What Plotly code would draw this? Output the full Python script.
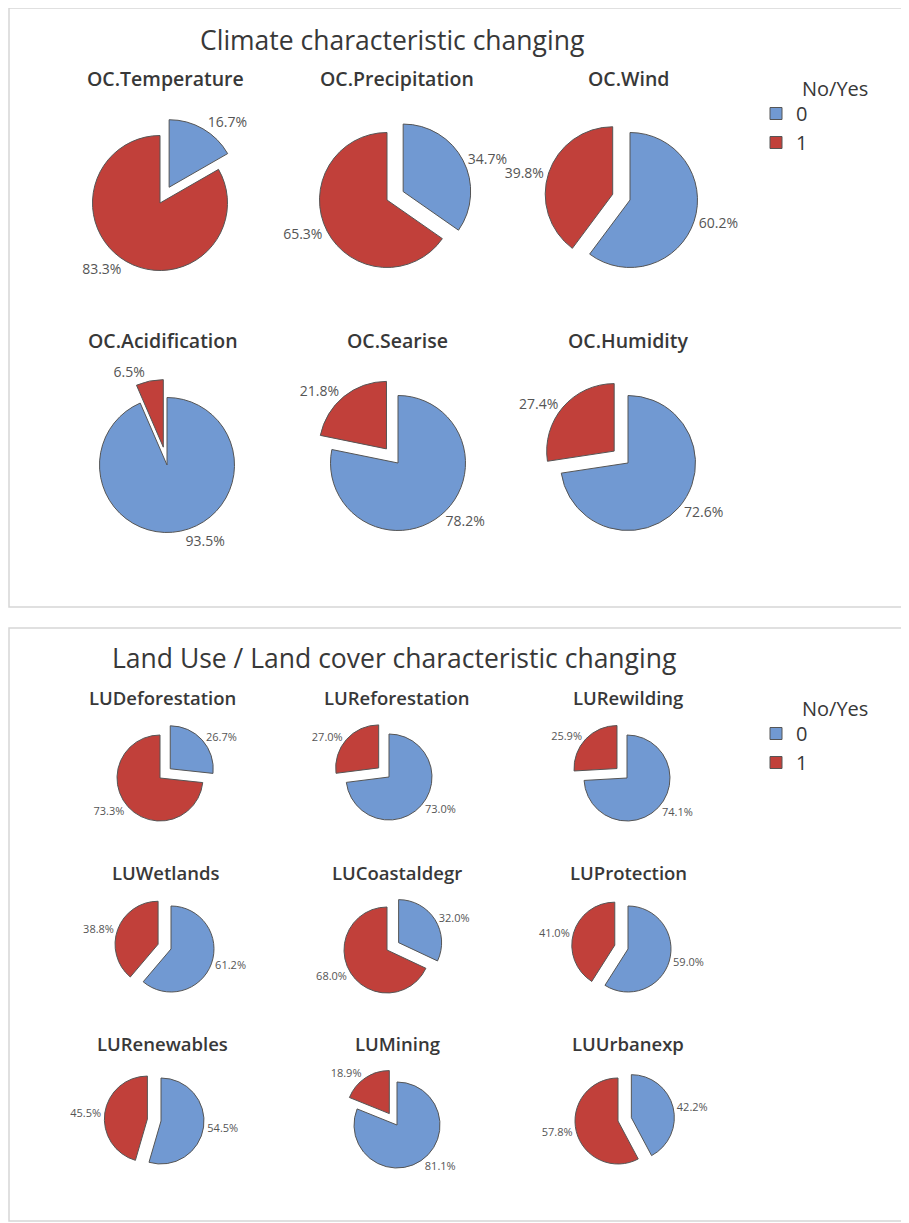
import plotly.graph_objects as go

W, H = 909, 1223
OX, OY = 8, 8  # page body margin offset

# ---------------- data ----------------
categories = ["0", "1"]
legend_title = "No/Yes"

oc_title = "Climate characteristic changing"
oc_names = ["OC.Temperature", "OC.Precipitation", "OC.Wind",
            "OC.Acidification", "OC.Searise", "OC.Humidity"]
oc_no = [16.7, 34.7, 60.2, 93.5, 78.2, 72.6]
oc_yes = [83.3, 65.3, 39.8, 6.5, 21.8, 27.4]

lu_title = "Land Use / Land cover characteristic changing"
lu_names = ["LUDeforestation", "LUReforestation", "LURewilding",
            "LUWetlands", "LUCoastaldegr", "LUProtection",
            "LURenewables", "LUMining", "LUUrbanexp"]
lu_no = [26.7, 73.0, 74.1, 61.2, 32.0, 59.0, 54.5, 81.1, 42.2]
lu_yes = [73.3, 27.0, 25.9, 38.8, 68.0, 41.0, 45.5, 18.9, 57.8]

# ---------------- layout / style ----------------
BLUE = "#7199D2"
RED = "#C1403A"
TXT = "#383838"
LBL = "#555555"
FONT = "Open Sans"

oc_centers = [(160, 203), (387, 200), (630, 200),
              (167, 465), (398, 463), (628, 463)]
oc_title_pos = [(165, 78), (397, 78), (628, 78),
                (163, 340), (397, 340), (628, 340)]
oc_r, oc_pull = 67.5, 0.27

lu_centers = [(160, 778), (389, 777), (627, 778),
              (171, 949), (387, 950), (628, 949),
              (161, 1121), (397, 1125), (618, 1121)]
lu_title_pos = [(162, 698), (396, 698), (628, 698),
                (165, 872), (397, 872), (628, 872),
                (162, 1043), (397, 1043), (628, 1043)]
lu_r, lu_pull = 43, 0.32

fig = go.Figure()
annotations = []


def px(x):
    return (x - OX) / W


def py(y):
    return 1 - (y - OY) / H


def add_pie(name, labels, no, yes, c, r, pull, legend, showlegend, tfont):
    cx, cy = c
    h = r * (1 + pull)
    pulls = [pull if no < yes else 0, pull if yes < no else 0]
    fig.add_trace(go.Pie(
        labels=labels, values=[no, yes], name=name,
        sort=False, direction="clockwise", rotation=0, pull=pulls,
        marker=dict(colors=[BLUE, RED], line=dict(color="#555555", width=1)),
        textposition="outside", texttemplate="%{percent:.1%}",
        textfont=tfont,
        domain=dict(x=[px(cx - h), px(cx + h)], y=[py(cy + h), py(cy - h)]),
        legend=legend, showlegend=showlegend,
    ))


def add_text(text, x, y, size, color=TXT, weight=400):
    annotations.append(dict(
        text=text, x=px(x), y=py(y), xref="paper", yref="paper",
        xanchor="center", yanchor="middle", showarrow=False,
        font=dict(family=FONT, size=size, color=color, weight=weight)))


for i, nm in enumerate(oc_names):
    add_pie(nm, categories, oc_no[i], oc_yes[i], oc_centers[i], oc_r, oc_pull,
            "legend", i == 0, dict(family=FONT, size=14, color=LBL))
    add_text(nm, *oc_title_pos[i], 19.5, weight=600)

# second panel gets its own legend (labels kept distinct internally)
lu_labels = [c + "\u200b" for c in categories]
for i, nm in enumerate(lu_names):
    add_pie(nm, lu_labels, lu_no[i], lu_yes[i], lu_centers[i], lu_r, lu_pull,
            "legend2", i == 0,
            dict(family="Liberation Sans Narrow, " + FONT, size=11, color=LBL))
    add_text(nm, *lu_title_pos[i], 18.5, weight=600)

add_text(oc_title, 392, 40, 26.5)
add_text(lu_title, 394, 658, 26.5)
add_text(legend_title, 835, 88, 20)
add_text(legend_title, 835, 708, 20)

shapes = [
    dict(type="rect", xref="paper", yref="paper",
         x0=px(9), x1=px(907), y0=py(607), y1=py(8),
         line=dict(color="#d6d6d6", width=1.5)),
    dict(type="rect", xref="paper", yref="paper",
         x0=px(9), x1=px(907), y0=py(1221), y1=py(628),
         line=dict(color="#d6d6d6", width=1.5)),
]

leg = dict(xanchor="left", yanchor="top", bgcolor="rgba(0,0,0,0)",
           font=dict(family=FONT, size=20, color=TXT), itemclick=False)

fig.update_layout(
    width=W, height=H, margin=dict(l=0, r=0, t=0, b=0),
    paper_bgcolor="white", plot_bgcolor="white",
    font=dict(family=FONT, color=TXT),
    annotations=annotations, shapes=shapes,
    legend=dict(leg, x=px(756), y=py(94)),
    legend2=dict(leg, x=px(756), y=py(714)),
)

fig.write_html("out.html")
